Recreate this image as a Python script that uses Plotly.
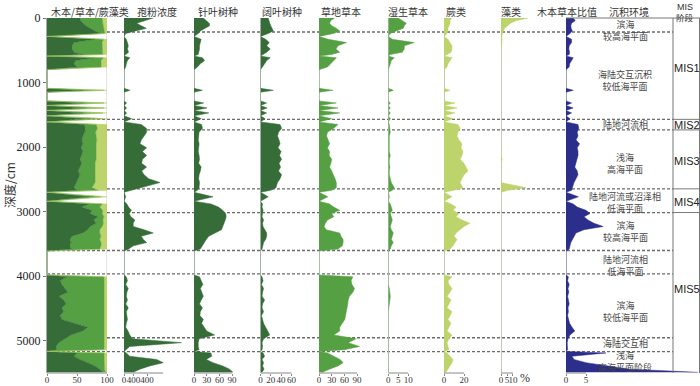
import plotly.graph_objects as go

# ---------------- data (depth in cm) ----------------
depth = [
    0, 40, 80, 120, 160, 200, 240,
    285,
    330, 380, 430, 480, 530, 565,
    590,
    615, 660, 710, 760,
    800, 1090,
    1120, 1150,
    1285, 1316, 1355,
    1393, 1432,
    1471, 1515,
    1560, 1610,
    1650, 1710, 1770, 1830, 1890, 1950, 2010, 2070, 2130, 2190, 2250, 2310, 2370, 2430, 2490, 2550, 2630, 2670,
    2700,
    2770, 2840,
    2880, 2930, 2980, 3030, 3080, 3130, 3180, 3230, 3280, 3330, 3380, 3430, 3480, 3530, 3580,
    3610, 3980,
    4010, 4070, 4130, 4190, 4250, 4310, 4370, 4430, 4490, 4550, 4610, 4670, 4730, 4790, 4850, 4910, 4970, 5030, 5090, 5140,
    5165,
    5190, 5240, 5290, 5340, 5390, 5440, 5490,
]

woody = [
    55, 56, 60, 65, 72, 80, 88,
    0,
    80, 45, 42, 42, 45, 60,
    0,
    78, 48, 45, 50,
    0, 0,
    60, 0,
    0, 62, 0,
    65, 0,
    60, 0,
    58, 0,
    62, 64, 63, 60, 58, 60, 57, 60, 58, 55, 58, 55, 52, 55, 52, 50, 45, 50,
    0,
    70, 0,
    70, 58, 75, 72, 85, 78, 82, 72, 68, 60, 42, 38, 40, 38, 40,
    0, 0,
    33, 22, 25, 30, 35, 20, 28, 32, 25, 28, 22, 25, 45, 68, 60, 40, 30, 20, 15, 15,
    0,
    50, 45, 55, 68, 80, 88, 93,
]

herb = [
    37, 36, 33, 29, 23, 15, 8,
    0,
    14, 47, 50, 50, 47, 33,
    0,
    16, 42, 45, 40,
    0, 0,
    35, 0,
    0, 33, 0,
    30, 0,
    33, 0,
    35, 0,
    20, 20, 18, 22, 25, 22, 25, 22, 24, 27, 22, 25, 28, 25, 28, 30, 30, 35,
    0,
    20, 0,
    22, 30, 18, 20, 10, 15, 12, 20, 20, 28, 48, 50, 50, 52, 48,
    0, 0,
    62, 73, 70, 65, 60, 75, 67, 63, 70, 68, 73, 70, 50, 27, 35, 55, 65, 75, 80, 80,
    0,
    45, 50, 40, 27, 15, 8, 4,
]

fern_algae = [
    8, 8, 7, 6, 5, 5, 4,
    0,
    6, 8, 8, 8, 8, 7,
    0,
    6, 10, 10, 10,
    0, 0,
    5, 0,
    0, 5, 0,
    5, 0,
    7, 0,
    7, 0,
    18, 16, 19, 18, 17, 18, 18, 18, 18, 18, 20, 20, 20, 20, 20, 20, 25, 15,
    0,
    10, 0,
    8, 12, 7, 8, 5, 7, 6, 8, 12, 12, 10, 12, 10, 10, 12,
    0, 0,
    5, 5, 5, 5, 5, 5, 5, 5, 5, 4, 5, 5, 5, 5, 5, 5, 5, 5, 5, 5,
    0,
    5, 5, 5, 5, 5, 4, 3,
]

concentration = [
    510, 340, 220, 300, 390, 200, 30,
    0,
    40, 60, 75, 60, 80, 30,
    0,
    104, 60, 40, 30,
    0, 0,
    104, 0,
    0, 46, 0,
    46, 0,
    46, 0,
    133, 0,
    300, 390, 394, 350, 300, 278, 394, 320, 394, 320, 307, 394, 307, 350, 430, 626, 278, 120,
    0,
    30, 0,
    50, 80, 130, 90, 120, 190, 160, 162, 350, 510, 300, 336, 394, 162, 80,
    0, 0,
    40, 60, 30, 75, 50, 40, 60, 30, 75, 40, 50, 60, 40, 30, 70, 100, 150, 1000, 100, 20,
    0,
    40, 100, 568, 684, 450, 278, 162,
]

conifer = [
    22, 30, 36, 37, 25, 15, 10,
    0,
    17, 15, 13, 13, 12, 10,
    0,
    20, 25, 15, 8,
    0, 0,
    20, 0,
    0, 23, 0,
    31, 0,
    35, 0,
    17, 0,
    18, 20, 12, 11, 10, 12, 11, 10, 12, 13, 11, 17, 15, 12, 11, 13, 12, 8,
    0,
    45, 0,
    40, 58, 68, 75, 76, 74, 70, 68, 65, 50, 35, 29, 25, 21, 15,
    0, 0,
    13, 18, 21, 15, 18, 22, 17, 13, 20, 15, 14, 22, 18, 25, 30, 49, 12, 10, 10, 12,
    0,
    40, 42, 29, 45, 68, 84, 92,
]

broadleaf = [
    15, 16, 18, 20, 23, 25, 15,
    0,
    10, 17, 12, 19, 12, 5,
    0,
    19, 12, 8, 4,
    0, 0,
    25, 0,
    0, 12, 0,
    13, 0,
    12, 0,
    9, 0,
    38, 41, 35, 33, 36, 38, 34, 40, 37, 41, 36, 39, 35, 41, 38, 33, 30, 20,
    0,
    15, 0,
    4, 3, 5, 4, 3, 6, 4, 5, 8, 12, 12, 10, 6, 5, 3,
    0, 0,
    3, 5, 2, 6, 4, 3, 8, 4, 3, 6, 2, 4, 6, 10, 14, 18, 6, 3, 4, 3,
    0,
    5, 8, 3, 6, 4, 7, 3,
]

grass = [
    37, 28, 25, 30, 41, 49, 35,
    0,
    22, 65, 45, 40, 49, 30,
    0,
    41, 35, 28, 20,
    0, 0,
    33, 0,
    0, 41, 0,
    45, 0,
    49, 0,
    30, 0,
    45, 35, 20, 18, 22, 25, 20, 25, 24, 30, 28, 25, 30, 35, 38, 41, 41, 30,
    0,
    21, 0,
    25, 35, 49, 30, 35, 20, 15, 12, 17, 49, 52, 57, 57, 55, 45,
    0, 0,
    80, 76, 78, 84, 80, 72, 69, 68, 66, 65, 63, 61, 55, 49, 49, 35, 88, 69, 96, 60,
    0,
    20, 35, 50, 57, 45, 25, 8,
]

wet = [
    5, 7, 9, 8, 7.5, 4, 1,
    0,
    2, 13, 8, 8, 7, 1,
    0,
    3, 1.5, 1, 0.5,
    0, 0,
    2.5, 0,
    0, 1, 0,
    1, 0,
    1, 0,
    1, 0,
    0.5, 0.8, 1, 0.5, 0.5, 0.8, 0.5, 0.5, 1, 0.5, 0.5, 0.8, 0.5, 0.5, 1, 1.5, 3, 2,
    0,
    0.5, 0,
    1, 1.5, 2, 1, 1.5, 2, 1.5, 1, 1.5, 2.5, 2, 1.5, 2.5, 1.5, 1,
    0, 0,
    0, 0, 0, 0.5, 0.8, 1, 0.8, 0.5, 0, 0, 0, 0, 0, 0, 0, 0, 0, 0.3, 0, 0,
    0,
    0, 0, 0, 0, 0, 0, 0,
]

fern = [
    8, 6, 6, 5, 4, 4, 3,
    0,
    4, 6, 8, 8, 7, 3,
    0,
    8, 6, 4, 3,
    0, 0,
    6, 0,
    0, 11, 0,
    13, 0,
    11, 0,
    9, 0,
    14, 16, 14, 13, 15, 18, 17, 19, 18, 16, 20, 22, 24, 20, 18, 16, 19, 10,
    0,
    8, 0,
    7, 12, 9, 15, 12, 18, 26, 20, 16, 12, 10, 13, 11, 9, 6,
    0, 0,
    8, 4, 5, 8, 6, 3, 7, 5, 3, 8, 6, 4, 7, 5, 3, 8, 5, 3, 4, 5,
    0,
    3, 6, 9, 8, 6, 4, 2,
]

algae = [
    23, 13, 8, 5, 3, 2, 1,
    0.5,
    1, 0.5, 0, 0, 0, 0,
    0,
    0, 0, 0, 0,
    0, 0,
    0, 0,
    0, 0, 0,
    0, 0,
    0, 0,
    0, 0,
    0, 0, 0, 0, 0, 0, 0, 0, 0, 1, 0, 0, 0, 0, 0, 0, 21, 6,
    0,
    0, 0,
    0, 0, 0, 0, 0, 0, 0, 0, 0, 0, 0, 0, 0, 0, 0,
    0, 0,
    0, 0, 0, 0, 0, 0, 0, 0, 0, 0, 0, 0, 0, 0, 0, 0, 0, 0, 0, 0,
    0,
    0, 0, 0, 0, 0, 0, 0,
]

ratio = [
    1.8, 2.3, 1.4, 1.2, 1.3, 1.6, 1.0,
    0,
    1.4, 1.4, 0.8, 0.7, 0.9, 0.8,
    0,
    1.8, 1.4, 0.9, 0.8,
    0, 0,
    1.8, 0,
    0, 1.4, 0,
    1.8, 0,
    1.4, 0,
    1.0, 0,
    3.0, 3.2, 2.8, 3.0, 2.5, 3.4, 2.8, 3.0, 3.0, 2.7, 2.5, 2.2, 2.8, 3.0, 2.5, 2.0, 1.6, 1.4,
    0,
    3.1, 0,
    1.8, 2.8, 5.0, 6.0, 4.5, 5.5, 7.0, 9.3, 4.5, 2.5, 2.0, 1.5, 1.2, 1.0, 0.8,
    0, 0,
    0.6, 0.4, 0.8, 0.5, 0.7, 0.4, 0.6, 0.8, 0.5, 0.6, 0.4, 0.7, 0.9, 1.5, 2.2, 1.0, 0.5, 0.3, 0.3, 0.4,
    0,
    10, 1.5, 2.0, 5.0, 10, 16, 33,
]

column_titles = ["木本/草本/蕨藻类", "孢粉浓度", "针叶树种", "阔叶树种", "草地草本",
                 "湿生草本", "蕨类", "藻类", "木本草本比值", "沉积环境"]
depth_ticks = [0, 1000, 2000, 3000, 4000, 5000]
boundaries = [217, 1570, 1734, 2647, 3014, 3602, 3963, 4954, 5170]
mis_bounds = [1570, 1734, 2647, 3014]
env_labels = [
    (190, "滨海<br>较高海平面"),
    (968, "海陆交互沉积<br>较低海平面"),
    (1657, "陆地河流相"),
    (2247, "浅海<br>高海平面"),
    (2854, "陆地河流或沼泽相<br>低海平面"),
    (3315, "滨海<br>较高海平面"),
    (3834, "陆地河流相<br>低海平面"),
    (4550, "滨海<br>较低海平面"),
    (5050, "海陆交互相"),
    (5316, "浅海<br>高海平面阶段"),
]
mis_labels = [(767, "MIS1"), (1657, "MIS2"), (2215, "MIS3"), (2850, "MIS4"), (4198, "MIS5")]

for arr in [woody, herb, fern_algae, concentration, conifer, broadleaf, grass, wet, fern, algae, ratio]:
    assert len(arr) == len(depth), (len(arr), len(depth))

# ---------------- styling ----------------
W, H = 700, 386
Y_TOP, Y_BOT = 18, 373
DMAX = 5500


def fx(px):
    return px / W


def fy(py):
    return 1 - py / H


DARK = '#356c38'
MID = '#55a042'
LIGHT = '#bdd36b'
NAVY = '#2b2e8b'
CJK = "Noto Sans CJK SC"
SERIF = "Liberation Serif"

fig = go.Figure()

for vals, col in [(woody, DARK), (herb, MID), (fern_algae, LIGHT)]:
    fig.add_trace(go.Scatter(x=vals, y=depth, xaxis='x', yaxis='y', mode='lines',
                             stackgroup='p1', orientation='h',
                             line=dict(width=0.5, color=col), fillcolor=col,
                             hoverinfo='skip', showlegend=False))

single = [
    ('x2', concentration, DARK),
    ('x3', conifer, DARK),
    ('x4', broadleaf, DARK),
    ('x5', grass, MID),
    ('x6', wet, MID),
    ('x7', fern, LIGHT),
    ('x8', algae, LIGHT),
    ('x9', ratio, NAVY),
]
for ax, vals, col in single:
    fig.add_trace(go.Scatter(x=vals, y=depth, xaxis=ax, yaxis='y', mode='lines',
                             fill='tozerox', line=dict(width=0.5, color=col),
                             fillcolor=col, hoverinfo='skip', showlegend=False))

# (layout key, left px, right px, range max, tickvals, ticktext, axis-line end)
axes_cfg = [
    ('xaxis', 47, 107, 100, [0, 50, 100], ['0', '50', '100'], 100),
    ('xaxis2', 124, 190, 1148, [0, 165, 400], ['0', '400', '400'], 678),
    ('xaxis3', 194, 250, 132.4, [0, 30, 60, 90], ['0', '30', '60', '90'], 90),
    ('xaxis4', 260.5, 312, 100, [0, 20, 40, 60], ['0', '20', '40', '60'], 60),
    ('xaxis5', 319, 385, 156, [0, 30, 60, 90], ['0', '30', '60', '90'], 90),
    ('xaxis6', 388.3, 440, 25.85, [0, 5, 10], ['0', '5', '10'], 10),
    ('xaxis7', 444, 498, 54, [0, 20], ['0', '20'], 20),
    ('xaxis8', 501, 560, 49.2, [0, 5, 10], ['0', '5', '10'], 10),
    ('xaxis9', 566, 700, 33.5, [0, 5], ['0', '5'], 5),
]

layout_axes = {}
shapes = []
for key, x0, x1, rmax, tv, tt, lend in axes_cfg:
    layout_axes[key] = dict(
        domain=[fx(x0), fx(x1)], range=[0, rmax], anchor='y',
        showgrid=False, zeroline=True, zerolinecolor='#c8c8c8', zerolinewidth=1,
        showline=False, tickvals=tv, ticktext=tt, ticks='outside', ticklen=2,
        tickcolor='#888', tickangle=0, automargin=False, ticklabelstandoff=-4,
        tickfont=dict(family=SERIF, size=9, color='#333'),
        fixedrange=True,
    )
    ref = 'x' if key == 'xaxis' else 'x' + key[5:]
    shapes.append(dict(type='line', xref=ref, yref='paper', x0=0, x1=lend,
                       y0=fy(Y_BOT), y1=fy(Y_BOT), line=dict(color='#888', width=1)))

# right edge of panel 1
shapes.append(dict(type='line', xref='x', yref='paper', x0=100, x1=100,
                   y0=fy(Y_BOT), y1=fy(Y_TOP), line=dict(color='#c8c8c8', width=1),
                   layer='below'))

for d in boundaries:
    shapes.append(dict(type='line', xref='paper', yref='y', x0=fx(47), x1=fx(673),
                       y0=d, y1=d, line=dict(color='#6a6a6a', width=1.3, dash='3px,2px'),
                       layer='below'))

# environment / MIS frame
shapes.append(dict(type='line', xref='paper', yref='paper', x0=fx(566), x1=fx(700),
                   y0=fy(Y_TOP), y1=fy(Y_TOP), line=dict(color='#777', width=1)))
shapes.append(dict(type='line', xref='paper', yref='paper', x0=fx(673), x1=fx(673),
                   y0=fy(Y_TOP), y1=fy(Y_BOT), line=dict(color='#777', width=1)))
shapes.append(dict(type='line', xref='paper', yref='paper', x0=fx(699.5), x1=fx(699.5),
                   y0=fy(Y_TOP), y1=fy(Y_BOT), line=dict(color='#777', width=1)))
for d in mis_bounds:
    shapes.append(dict(type='line', xref='paper', yref='y', x0=fx(673), x1=fx(700),
                       y0=d, y1=d, line=dict(color='#777', width=1)))

annotations = []
title_x = [50, 157, 218, 282, 341, 408, 456, 511, 567, 629]
for i, (t, x) in enumerate(zip(column_titles, title_x)):
    annotations.append(dict(text=t, xref='paper', yref='paper', x=fx(x), y=fy(11.5),
                            showarrow=False, xanchor='left' if i == 0 else 'center',
                            yanchor='middle', borderpad=0,
                            font=dict(family=CJK, size=10, color='#333')))
annotations.append(dict(text="MIS", xref='paper', yref='paper', x=fx(685), y=fy(0.5),
                        showarrow=False, xanchor='center', yanchor='top', borderpad=0,
                        font=dict(family="Liberation Sans", size=9, color='#333')))
annotations.append(dict(text="阶段", xref='paper', yref='paper', x=fx(685), y=fy(10.5),
                        showarrow=False, xanchor='center', yanchor='top', borderpad=0,
                        font=dict(family=CJK, size=8.5, color='#333')))
for d, t in env_labels:
    annotations.append(dict(text=t, xref='paper', yref='y', x=fx(625), y=d,
                            showarrow=False, xanchor='center', yanchor='middle',
                            borderpad=0,
                            font=dict(family=CJK, size=9, color='#444')))
for d, t in mis_labels:
    annotations.append(dict(text=t, xref='paper', yref='y', x=fx(686.5), y=d,
                            showarrow=False, xanchor='center', yanchor='middle',
                            borderpad=0,
                            font=dict(family="Liberation Sans", size=11, color='#222')))
annotations.append(dict(text="深度/cm", xref='paper', yref='paper', x=fx(10), y=fy(185),
                        showarrow=False, textangle=-90, xanchor='center', yanchor='middle',
                        font=dict(family=CJK, size=12, color='#333')))
annotations.append(dict(text="%", xref='paper', yref='paper', x=fx(525), y=fy(385.5),
                        showarrow=False, xanchor='center', yanchor='bottom', borderpad=0,
                        font=dict(family=SERIF, size=12, color='#333')))

fig.update_layout(
    width=W, height=H, margin=dict(l=0, r=0, t=0, b=0, pad=0),
    paper_bgcolor='white', plot_bgcolor='rgba(0,0,0,0)',
    showlegend=False,
    yaxis=dict(domain=[fy(Y_BOT), fy(Y_TOP)], range=[DMAX, 0], anchor='x',
               tickvals=depth_ticks, ticks='outside', ticklen=3, tickcolor='#777',
               showline=True, linecolor='#aaa', linewidth=1, showgrid=False,
               zeroline=False, automargin=False,
               tickfont=dict(family=SERIF, size=12, color='#222'),
               fixedrange=True),
    shapes=shapes, annotations=annotations,
    **layout_axes,
)

fig.write_html("out.html", config={'displayModeBar': False},
               post_script="document.body.style.margin='0';")
